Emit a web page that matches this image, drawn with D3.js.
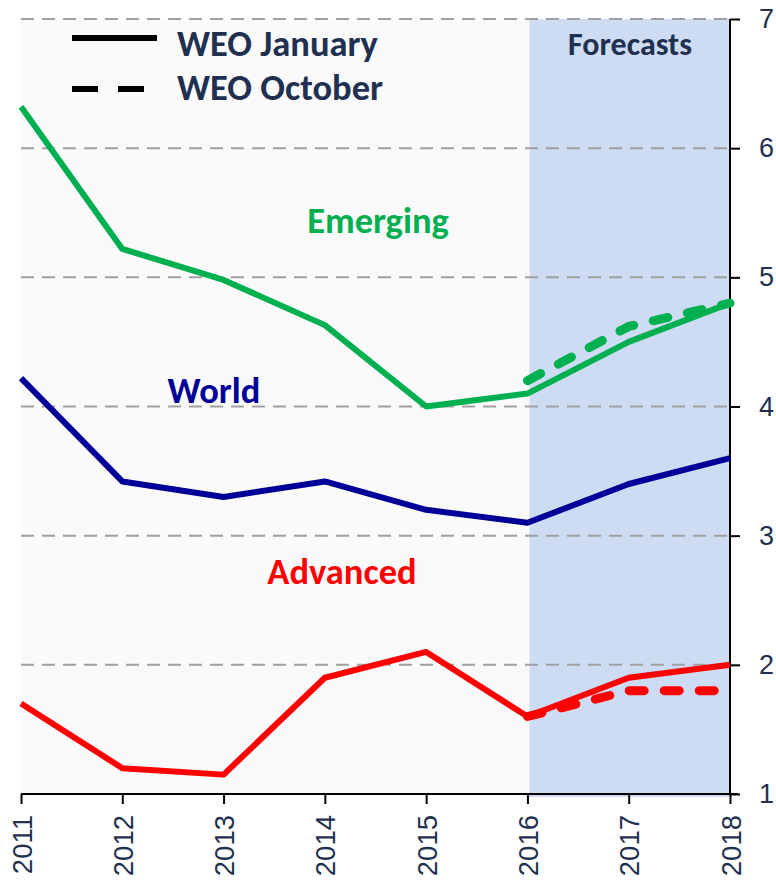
<!DOCTYPE html>
<html><head><meta charset="utf-8">
<script src="https://cdn.jsdelivr.net/npm/d3@7"></script>
<style>html,body{margin:0;padding:0;background:#fff;}svg{display:block;font-family:Carlito,Lato,"Open Sans",sans-serif;}</style>
</head><body>
<svg id="c" width="776" height="883"></svg>
<script>
const years = [2011, 2012, 2013, 2014, 2015, 2016, 2017, 2018];
const emergingJan = [6.32, 5.22, 4.98, 4.63, 4.0, 4.1, 4.5, 4.8];
const worldJan = [4.22, 3.42, 3.3, 3.42, 3.2, 3.1, 3.4, 3.6];
const advancedJan = [1.7, 1.2, 1.15, 1.9, 2.1, 1.6, 1.9, 2.0];
const forecastYears = [2016, 2017, 2018];
const emergingOct = [4.2, 4.62, 4.8];
const advancedOct = [1.6, 1.8, 1.8];
const yTicks = [1, 2, 3, 4, 5, 6, 7];
const gridTicks = [2, 3, 4, 5, 6, 7];

const svg = d3.select("#c");
const x = d3.scaleLinear().domain([2011, 2018]).range([21, 730]);
const y = d3.scaleLinear().domain([1, 7]).range([794, 19]);
const navy = "#1f3050";
const numFont = "'Liberation Sans', Arial, sans-serif";

// plot background
svg.append("rect").attr("x", x(2011)).attr("y", y(7)).attr("width", x(2018) - x(2011)).attr("height", y(1) - y(7)).attr("fill", "#fafafa");
// forecast shading
svg.append("rect").attr("x", x(2016) + 2).attr("y", y(7)).attr("width", x(2018) - x(2016) - 2).attr("height", y(1) - y(7) + 3).attr("fill", "#cddcf2");

// gridlines
svg.append("g").selectAll("line").data(gridTicks).join("line")
  .attr("x1", x(2011)).attr("x2", x(2018)).attr("y1", d => y(d)).attr("y2", d => y(d))
  .attr("stroke", "#a0a0a0").attr("stroke-width", 2).attr("stroke-dasharray", "13,8");

// right axis
const yAxis = d3.axisRight(y).tickValues(yTicks).tickSize(10).tickPadding(19).tickFormat(d3.format("d"));
const ga = svg.append("g").attr("transform", `translate(${x(2018)},0)`).call(yAxis);
ga.select(".domain").attr("stroke", "#000").attr("stroke-width", 2).attr("d", `M0,${y(7)}V${y(1)}`);
ga.selectAll(".tick line").attr("stroke", "#000").attr("stroke-width", 2);
ga.selectAll(".tick text").attr("fill", navy).attr("font-size", 27).attr("font-family", numFont).attr("text-anchor", "start");

// bottom axis
const xAxis = d3.axisBottom(x).tickValues(years).tickSize(10).tickFormat(d3.format("d"));
const gx = svg.append("g").attr("transform", `translate(0,${y(1)})`).call(xAxis);
gx.select(".domain").attr("stroke", "#000").attr("stroke-width", 2).attr("d", `M${x(2011)},0H${x(2018) + 8}`);
gx.selectAll(".tick line").attr("stroke", "#000").attr("stroke-width", 2);
gx.selectAll(".tick text").attr("fill", navy).attr("font-size", 27.5).attr("font-family", numFont)
  .attr("text-anchor", "end").attr("dy", null).attr("y", 0)
  .attr("transform", "translate(10,21) rotate(-90)");

// lines
const line = d3.line().x(d => x(d[0])).y(d => y(d[1]));
function draw(xs, vals, color, w, dash) {
  const p = svg.append("path").datum(xs.map((v, i) => [v, vals[i]]))
    .attr("d", line).attr("fill", "none").attr("stroke", color).attr("stroke-width", w)
    .attr("stroke-linejoin", "round");
  if (dash) p.attr("stroke-dasharray", dash).attr("stroke-linecap", "round");
}
draw(years, emergingJan, "#00b050", 6);
draw(forecastYears, emergingOct, "#00b050", 9, "15,20");
draw(years, worldJan, "#000099", 6);
draw(years, advancedJan, "#ff0000", 6);
draw(forecastYears, advancedOct, "#ff0000", 9, "15,20");

// series labels
const lab = (t, cx, by, col, fs) => svg.append("text").text(t).attr("x", cx).attr("y", by)
  .attr("text-anchor", "middle").attr("font-weight", "bold").attr("font-size", fs).attr("fill", col);
lab("Emerging", 378, 233, "#00b050", 36.5);
lab("World", 214, 403, "#000099", 36.5);
lab("Advanced", 342, 584, "#ff0000", 36.5);
lab("Forecasts", 630, 55, navy, 32);

// legend
svg.append("line").attr("x1", 72).attr("x2", 157).attr("y1", 38).attr("y2", 38).attr("stroke", "#000").attr("stroke-width", 6);
svg.append("line").attr("x1", 72).attr("x2", 146).attr("y1", 89).attr("y2", 89).attr("stroke", "#000").attr("stroke-width", 6).attr("stroke-dasharray", "26,20");
svg.append("text").text("WEO January").attr("x", 177).attr("y", 56).attr("font-weight", "bold").attr("font-size", 36.5).attr("fill", navy);
svg.append("text").text("WEO October").attr("x", 177).attr("y", 100).attr("font-weight", "bold").attr("font-size", 36.5).attr("fill", navy);
</script>
</body></html>
